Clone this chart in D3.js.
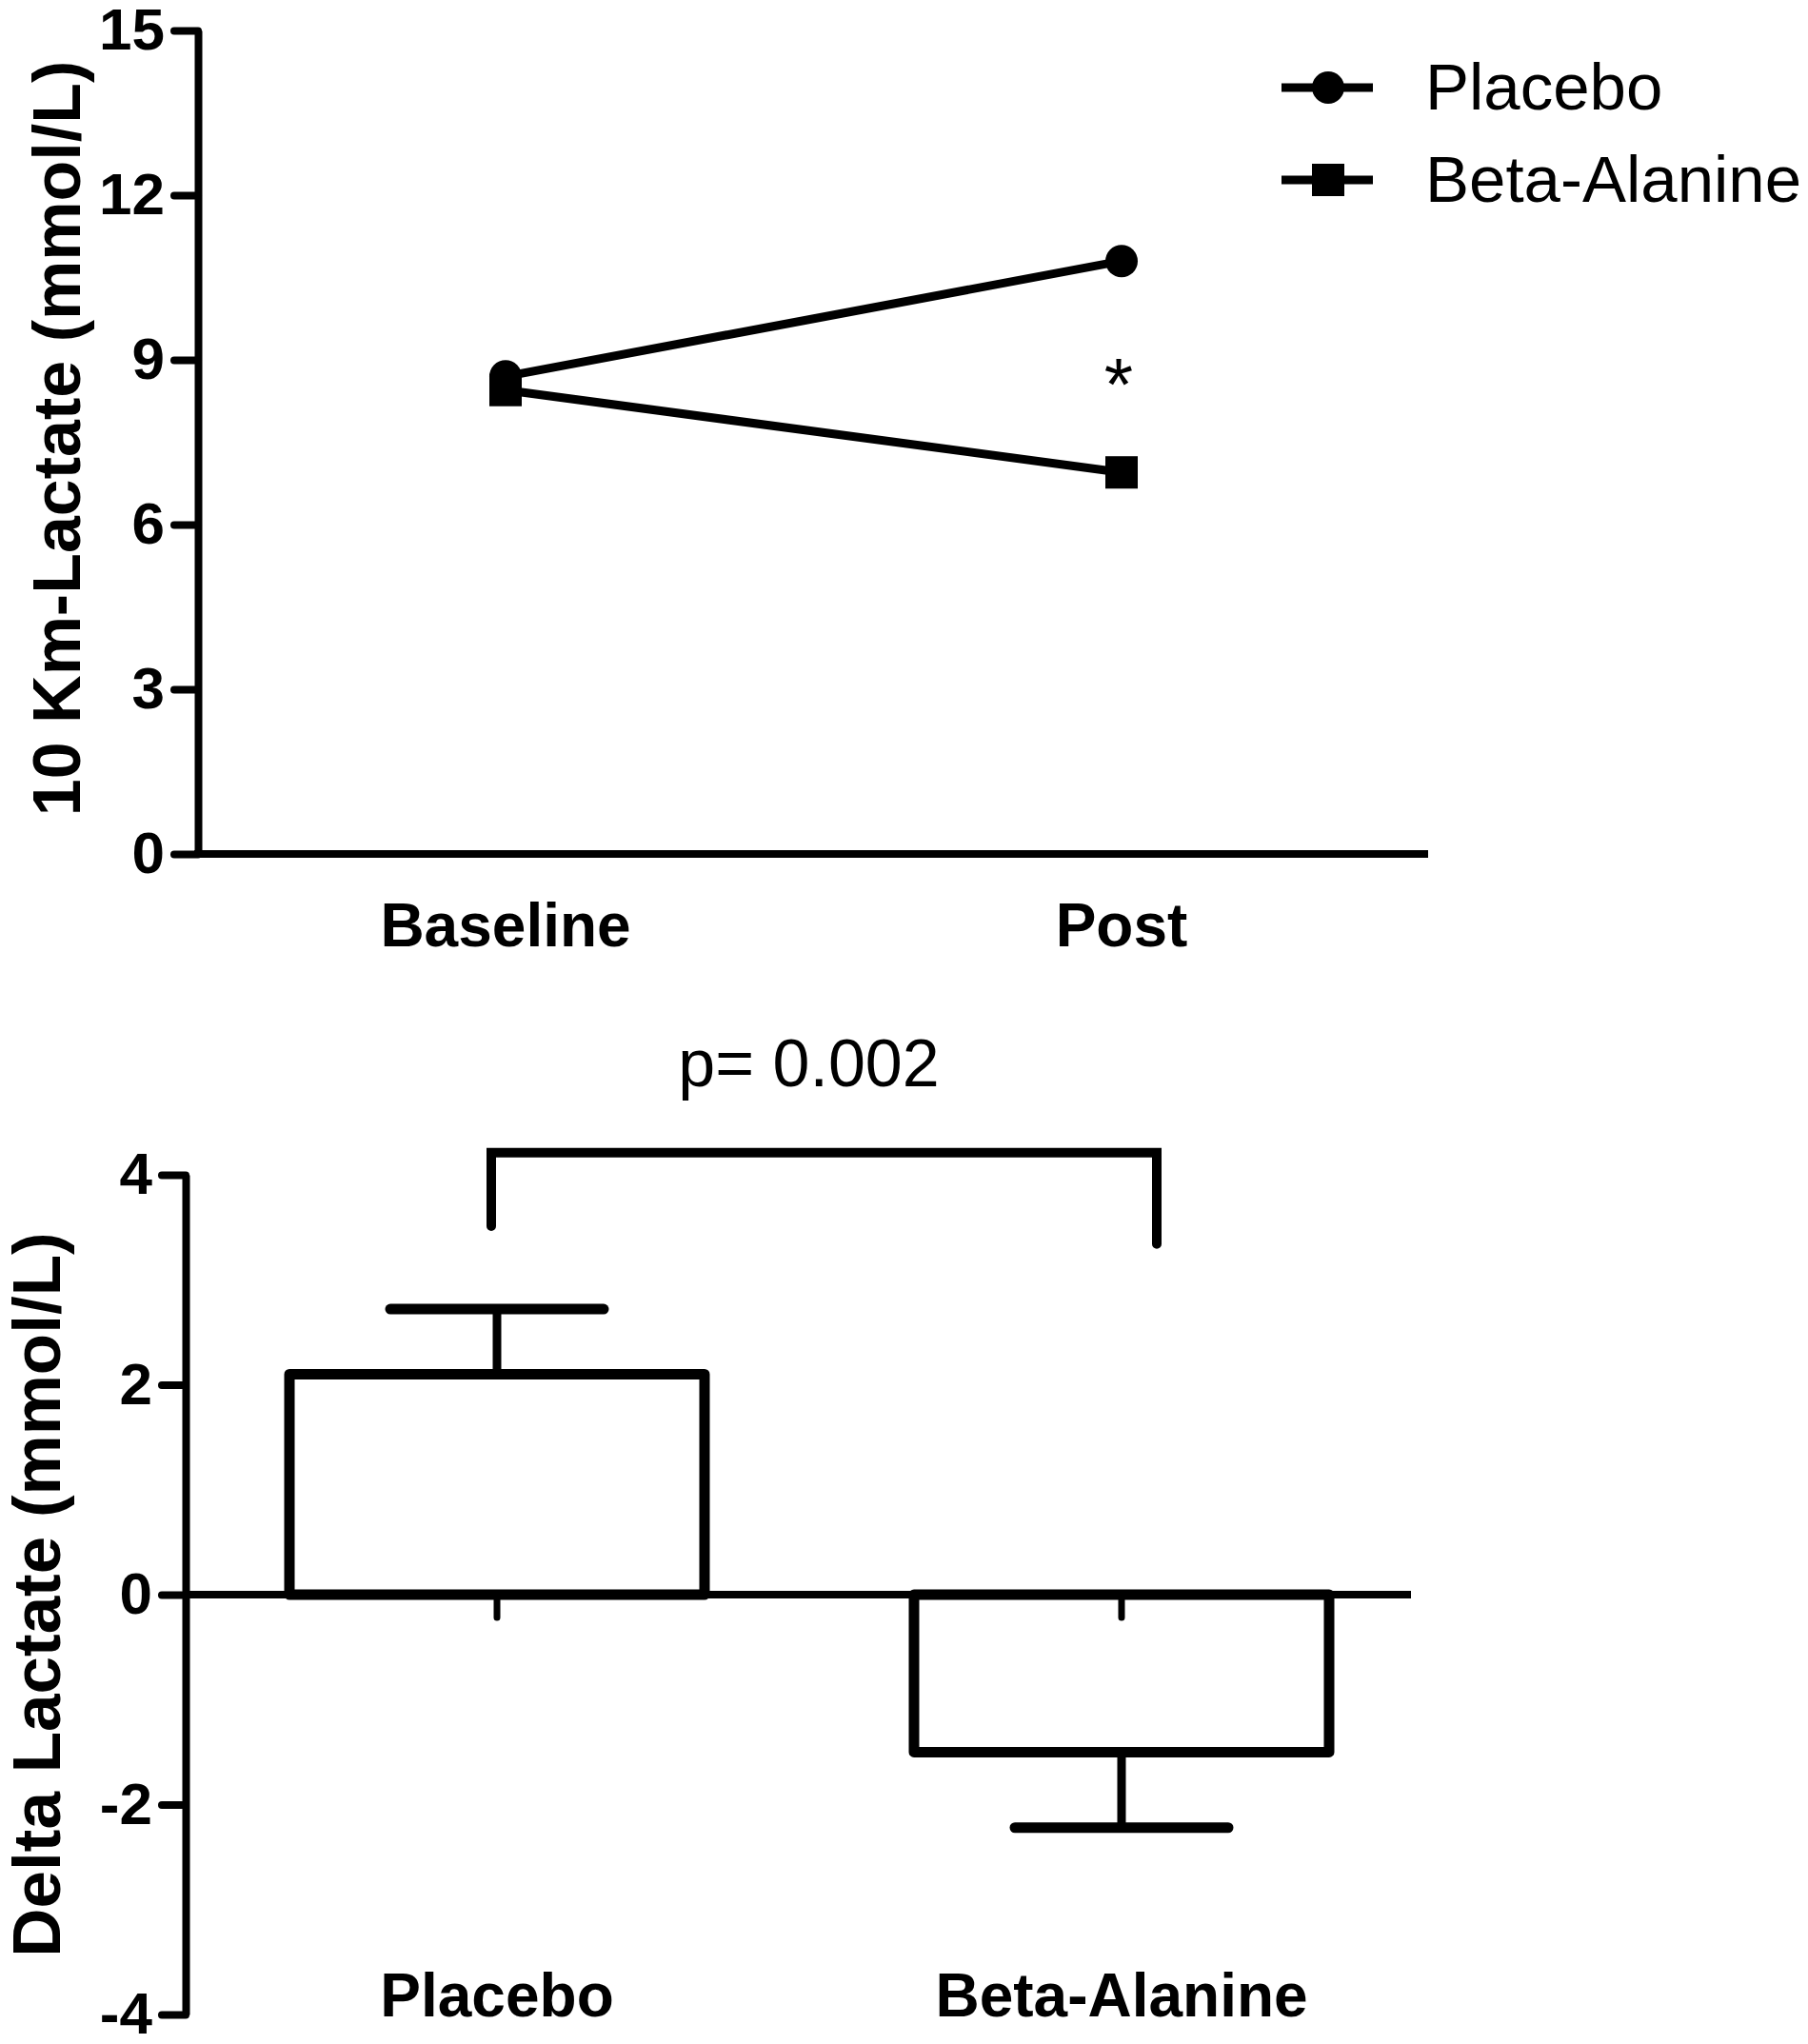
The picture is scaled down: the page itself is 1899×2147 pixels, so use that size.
<!DOCTYPE html>
<html>
<head>
<meta charset="utf-8">
<script src="https://cdn.jsdelivr.net/npm/d3@7"></script>
<style>
  body { margin: 0; background: #fff; }
  text { font-family: 'Liberation Sans', Arial, sans-serif; fill: #000; }
</style>
</head>
<body>
<div id="chart"></div>
<script>
'use strict';

// Top panel: lactate after 10 km
var timePoints = [ 'Baseline', 'Post' ];
var placeboLactate = [ 8.7, 10.8 ];
var betaLactate = [ 8.45, 6.95 ];
var topTicks = [ 0, 3, 6, 9, 12, 15 ];
var seriesNames = [ 'Placebo', 'Beta-Alanine' ];

// Bottom panel: change in lactate (mean + SEM)
var groups = [ 'Placebo', 'Beta-Alanine' ];
var deltaMean = [ 2.1, -1.5 ];
var deltaErr = [ 0.62, 0.72 ];
var bottomTicks = [ -4, -2, 0, 2, 4 ];
var pLabel = 'p= 0.002';
// bracket: top level, left leg end, right leg end (in mmol/L)
var bracketLevels = [ 4.21, 3.51, 3.34 ];

var width = 1899;
var height = 2147;

var svg = d3.select( '#chart' ).append( 'svg' )
  .attr( 'width', width )
  .attr( 'height', height );

// plain hyphen for negatives, as in the original figure
function tickText( d ) {
  return String( d );
}

function styleAxis( g, fontSize ) {
  g.attr( 'font-size', fontSize )
    .attr( 'font-weight', 'bold' )
    .attr( 'font-family', "'Liberation Sans', Arial, sans-serif" );
  g.select( '.domain' )
    .attr( 'stroke', '#000' )
    .attr( 'stroke-width', 8 );
  g.selectAll( '.tick line' )
    .attr( 'stroke', '#000' )
    .attr( 'stroke-width', 8 )
    .attr( 'stroke-linecap', 'round' );
}

//
// TOP PANEL
//

var xTop = d3.scalePoint().domain( timePoints ).range( [ 531, 1178 ] );
var yTop = d3.scaleLinear().domain( [ 0, 15 ] ).range( [ 897, 32 ] );
var topAxisX = 208;

var topPanel = svg.append( 'g' ).attr( 'class', 'top-panel' );

topPanel.append( 'g' )
  .attr( 'transform', 'translate(' + topAxisX + ',0)' )
  .call( d3.axisLeft( yTop ).tickValues( topTicks ).tickFormat( tickText )
    .tickSize( 25 ).tickPadding( 10 ).tickSizeOuter( 0 ) )
  .call( styleAxis, 62 );

// x axis line (no ticks)
topPanel.append( 'line' )
  .attr( 'x1', topAxisX - 4 )
  .attr( 'x2', 1500 )
  .attr( 'y1', yTop( 0 ) )
  .attr( 'y2', yTop( 0 ) )
  .attr( 'stroke', '#000' )
  .attr( 'stroke-width', 8 );

topPanel.selectAll( '.time-label' )
  .data( timePoints )
  .enter().append( 'text' )
  .attr( 'class', 'time-label' )
  .attr( 'x', function( d ) { return xTop( d ); } )
  .attr( 'y', 994 )
  .attr( 'text-anchor', 'middle' )
  .attr( 'font-size', 64 )
  .attr( 'font-weight', 'bold' )
  .text( function( d ) { return d; } );

topPanel.append( 'text' )
  .attr( 'transform', 'translate(84,' + ( ( yTop( 0 ) + yTop( 15 ) ) / 2 - 4 ) + ') rotate(-90)' )
  .attr( 'text-anchor', 'middle' )
  .attr( 'font-size', 70 )
  .attr( 'font-weight', 'bold' )
  .text( '10 Km-Lactate (mmol/L)' );

var line = d3.line()
  .x( function( d, i ) { return xTop( timePoints[ i ] ); } )
  .y( function( d ) { return yTop( d ); } );

[ placeboLactate, betaLactate ].forEach( function( vals ) {
  topPanel.append( 'path' )
    .datum( vals )
    .attr( 'd', line )
    .attr( 'fill', 'none' )
    .attr( 'stroke', '#000' )
    .attr( 'stroke-width', 9 );
} );

var markR = 17;

topPanel.selectAll( '.pl-dot' )
  .data( placeboLactate )
  .enter().append( 'circle' )
  .attr( 'class', 'pl-dot' )
  .attr( 'cx', function( d, i ) { return xTop( timePoints[ i ] ); } )
  .attr( 'cy', function( d ) { return yTop( d ); } )
  .attr( 'r', markR );

topPanel.selectAll( '.ba-sq' )
  .data( betaLactate )
  .enter().append( 'rect' )
  .attr( 'class', 'ba-sq' )
  .attr( 'x', function( d, i ) { return xTop( timePoints[ i ] ) - markR; } )
  .attr( 'y', function( d ) { return yTop( d ) - markR; } )
  .attr( 'width', markR * 2 )
  .attr( 'height', markR * 2 );

// significance star at Post
topPanel.append( 'text' )
  .attr( 'x', xTop( 'Post' ) - 3 )
  .attr( 'y', yTop( 8.6 ) + 30 )
  .attr( 'text-anchor', 'middle' )
  .attr( 'font-size', 78 )
  .text( '*' );

// Legend
var legend = topPanel.selectAll( '.legend' )
  .data( seriesNames )
  .enter().append( 'g' )
  .attr( 'class', 'legend' )
  .attr( 'transform', function( d, i ) { return 'translate(1395,' + ( 92 + i * 97 ) + ')'; } );

legend.append( 'line' )
  .attr( 'x1', -49 )
  .attr( 'x2', 47 )
  .attr( 'stroke', '#000' )
  .attr( 'stroke-width', 9 );

legend.each( function( d, i ) {
  var g = d3.select( this );
  if ( i === 0 ) {
    g.append( 'circle' ).attr( 'r', markR );
  } else {
    g.append( 'rect' )
      .attr( 'x', -markR ).attr( 'y', -markR )
      .attr( 'width', markR * 2 ).attr( 'height', markR * 2 );
  }
} );

legend.append( 'text' )
  .attr( 'x', 102 )
  .attr( 'y', 23 )
  .attr( 'font-size', 69 )
  .text( function( d ) { return d; } );

//
// BOTTOM PANEL
//

var xBot = d3.scalePoint().domain( groups ).range( [ 522, 1178 ] );
var yBot = d3.scaleLinear().domain( [ -4, 4 ] ).range( [ 2116, 1234 ] );
var botAxisX = 195;
var barW = 436;

var botPanel = svg.append( 'g' ).attr( 'class', 'bottom-panel' );

botPanel.append( 'g' )
  .attr( 'transform', 'translate(' + botAxisX + ',0)' )
  .call( d3.axisLeft( yBot ).tickValues( bottomTicks ).tickFormat( tickText )
    .tickSize( 25 ).tickPadding( 10 ).tickSizeOuter( 0 ) )
  .call( styleAxis, 62 );

botPanel.append( 'text' )
  .attr( 'transform', 'translate(63,' + ( ( yBot( -4 ) + yBot( 4 ) ) / 2 ) + ') rotate(-90)' )
  .attr( 'text-anchor', 'middle' )
  .attr( 'font-size', 71 )
  .attr( 'font-weight', 'bold' )
  .text( 'Delta Lactate (mmol/L)' );

// bars (outline only)
botPanel.selectAll( '.bar' )
  .data( deltaMean )
  .enter().append( 'rect' )
  .attr( 'class', 'bar' )
  .attr( 'x', function( d, i ) { return xBot( groups[ i ] ) - barW / 2; } )
  .attr( 'y', function( d ) { return yBot( Math.max( 0, d ) ); } )
  .attr( 'width', barW )
  .attr( 'height', function( d ) { return Math.abs( yBot( d ) - yBot( 0 ) ); } )
  .attr( 'fill', '#fff' )
  .attr( 'stroke', '#000' )
  .attr( 'stroke-width', 11 )
  .attr( 'stroke-linejoin', 'round' );

// error bars (one-sided, away from zero)
var errG = botPanel.selectAll( '.err' )
  .data( deltaMean )
  .enter().append( 'g' )
  .attr( 'class', 'err' );

errG.append( 'line' )
  .attr( 'x1', function( d, i ) { return xBot( groups[ i ] ); } )
  .attr( 'x2', function( d, i ) { return xBot( groups[ i ] ); } )
  .attr( 'y1', function( d ) { return yBot( d ); } )
  .attr( 'y2', function( d, i ) { return yBot( d + Math.sign( d ) * deltaErr[ i ] ); } )
  .attr( 'stroke', '#000' )
  .attr( 'stroke-width', 9 );

errG.append( 'line' )
  .attr( 'x1', function( d, i ) { return xBot( groups[ i ] ) - 112; } )
  .attr( 'x2', function( d, i ) { return xBot( groups[ i ] ) + 112; } )
  .attr( 'y1', function( d, i ) { return yBot( d + Math.sign( d ) * deltaErr[ i ] ); } )
  .attr( 'y2', function( d, i ) { return yBot( d + Math.sign( d ) * deltaErr[ i ] ); } )
  .attr( 'stroke', '#000' )
  .attr( 'stroke-width', 11 )
  .attr( 'stroke-linecap', 'round' );

// zero line with category ticks
botPanel.append( 'line' )
  .attr( 'x1', botAxisX )
  .attr( 'x2', 1482 )
  .attr( 'y1', yBot( 0 ) )
  .attr( 'y2', yBot( 0 ) )
  .attr( 'stroke', '#000' )
  .attr( 'stroke-width', 8 );

botPanel.selectAll( '.cat-tick' )
  .data( groups )
  .enter().append( 'line' )
  .attr( 'class', 'cat-tick' )
  .attr( 'x1', function( d ) { return xBot( d ); } )
  .attr( 'x2', function( d ) { return xBot( d ); } )
  .attr( 'y1', yBot( 0 ) )
  .attr( 'y2', yBot( 0 ) + 24 )
  .attr( 'stroke', '#000' )
  .attr( 'stroke-width', 7 )
  .attr( 'stroke-linecap', 'round' );

botPanel.selectAll( '.cat-label' )
  .data( groups )
  .enter().append( 'text' )
  .attr( 'class', 'cat-label' )
  .attr( 'x', function( d ) { return xBot( d ); } )
  .attr( 'y', 2118 )
  .attr( 'text-anchor', 'middle' )
  .attr( 'font-size', 64 )
  .attr( 'font-weight', 'bold' )
  .text( function( d ) { return d; } );

// significance bracket
var bx1 = xBot( 'Placebo' ) - 6;
var bx2 = xBot( 'Beta-Alanine' ) + 37;
botPanel.append( 'path' )
  .attr( 'd', 'M' + bx1 + ',' + yBot( bracketLevels[ 1 ] ) +
    'V' + yBot( bracketLevels[ 0 ] ) +
    'H' + bx2 +
    'V' + yBot( bracketLevels[ 2 ] ) )
  .attr( 'fill', 'none' )
  .attr( 'stroke', '#000' )
  .attr( 'stroke-width', 10 )
  .attr( 'stroke-linecap', 'round' );

botPanel.append( 'text' )
  .attr( 'x', ( bx1 + bx2 ) / 2 - 16 )
  .attr( 'y', 1141 )
  .attr( 'text-anchor', 'middle' )
  .attr( 'font-size', 70 )
  .text( pLabel );
</script>
</body>
</html>
